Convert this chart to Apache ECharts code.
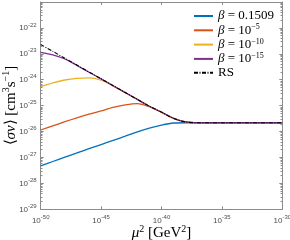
<!DOCTYPE html>
<html><head><meta charset="utf-8">
<script src="https://cdn.jsdelivr.net/npm/echarts@6/dist/echarts.min.js"></script>
<style>html,body{margin:0;padding:0;background:#fff}#c{width:290px;height:240px}</style>
</head><body><div id="c"></div>
<script>
// x: log10(mu^2 / GeV^2), y: log10(<sigma v> / cm^3 s^-1)
var xExp = [-50,-49,-48,-47,-46,-45,-44,-43,-42,-41,-40,-39,-38,-37,-36,-35,-34,-33,-32,-31,-30];
var beta1 = [-27.32,-27.155,-26.99,-26.825,-26.66,-26.50,-26.34,-26.18,-26.01,-25.87,-25.75,-25.67,-25.66,-25.66,-25.66,-25.66,-25.66,-25.66,-25.66,-25.66,-25.66];
var beta2 = [-25.94,-25.78,-25.62,-25.47,-25.33,-25.20,-25.07,-24.97,-24.92,-25.04,-25.26,-25.49,-25.63,-25.66,-25.66,-25.66,-25.66,-25.66,-25.66,-25.66,-25.66];
var beta3 = [-24.27,-24.12,-24.01,-23.95,-23.93,-24.02,-24.245,-24.50,-24.76,-25.025,-25.25,-25.49,-25.63,-25.66,-25.66,-25.66,-25.66,-25.66,-25.66,-25.66,-25.66];
var beta4 = [-22.94,-23.04,-23.20,-23.45,-23.71,-23.965,-24.23,-24.495,-24.76,-25.025,-25.25,-25.49,-25.63,-25.66,-25.66,-25.66,-25.66,-25.66,-25.66,-25.66,-25.66];
var rs    = [-22.64,-22.905,-23.17,-23.435,-23.70,-23.965,-24.23,-24.495,-24.76,-25.025,-25.25,-25.49,-25.63,-25.66,-25.66,-25.66,-25.66,-25.66,-25.66,-25.66,-25.66];
var seriesNames = ['b1','b2','b3','b4','rs'];
var legendLabels = {
  b1: '{g|β}{n| = 0.1509}',
  b2: '{g|β}{n| = 10}{s|−5}',
  b3: '{g|β}{n| = 10}{s|−10}',
  b4: '{g|β}{n| = 10}{s|−15}',
  rs: '{n|RS}'
};
var colors = ['#0072BD','#D95319','#EDB120','#7E2F8E','#000000'];

function pairs(ys){ return xExp.map(function(x,i){ return [x, ys[i]]; }); }
var yMinor = [];
for (var n = -29; n < -21; n++) { for (var k = 2; k <= 9; k++) yMinor.push(n + Math.log10(k)); }

var axisCol = '#8c8c8c';
var tickLabRich = {
  b: {fontFamily: 'Liberation Sans', fontSize: 8, color: '#4d4d4d', lineHeight: 12},
  s: {fontFamily: 'Liberation Sans', fontSize: 6, color: '#4d4d4d', lineHeight: 6, verticalAlign: 'top'}
};
function tickFmt(v){ return '{b|10}{s|' + v + '}'; }
var serifRich = {
  i: {fontFamily: 'Liberation Serif', fontStyle: 'italic', fontSize: 15, color: '#000', lineHeight: 18},
  n: {fontFamily: 'Liberation Serif', fontSize: 15, color: '#000', lineHeight: 18},
  s: {fontFamily: 'Liberation Serif', fontSize: 10, color: '#000', lineHeight: 10, verticalAlign: 'top'}
};

var chart = echarts.init(document.getElementById('c'), null, {renderer: 'canvas'});
var data = [beta1, beta2, beta3, beta4, rs];
var series = data.map(function(d, i){
  return {
    name: seriesNames[i], type: 'line', data: pairs(d), showSymbol: false, symbol: 'none',
    smooth: 0.3, xAxisIndex: 0, yAxisIndex: 0,
    lineStyle: {color: colors[i], width: i === 4 ? 1.1 : 1.3, type: i === 4 ? [4, 1.5, 1, 1.5] : 'solid'},
    itemStyle: {color: colors[i]}, z: 2 + i
  };
});
var baseAxis = {
  type: 'value', splitLine: {show: false},
  axisLine: {show: true, onZero: false, lineStyle: {color: axisCol, width: 1}},
  axisTick: {show: true, inside: true, length: 3, lineStyle: {color: axisCol}}
};
chart.setOption({
  animation: false,
  backgroundColor: '#fff',
  grid: {left: 40.7, right: 7.7, top: 2, bottom: 30.7, containLabel: false, outerBoundsMode: 'none'},
  legend: {
    orient: 'vertical', left: 193, top: 9.5, padding: 0, itemGap: 0.8,
    itemWidth: 19, itemHeight: 10, data: seriesNames,
    itemStyle: {opacity: 0},
    formatter: function(name){ return legendLabels[name]; },
    textStyle: {
      rich: {
        g: {fontFamily: 'Liberation Serif', fontStyle: 'italic', fontSize: 13, color: '#000', lineHeight: 14},
        n: {fontFamily: 'Liberation Serif', fontSize: 13, color: '#000', lineHeight: 14},
        s: {fontFamily: 'Liberation Serif', fontSize: 8, color: '#000', lineHeight: 8, verticalAlign: 'top'}
      }
    }
  },
  xAxis: [
    Object.assign({}, baseAxis, {
      position: 'bottom', min: -50, max: -30, interval: 5,
      axisLabel: {formatter: tickFmt, margin: 5, rich: tickLabRich},
      name: '{i|μ}{s|2}{n| [GeV}{s|2}{n|]}', nameLocation: 'middle', nameGap: 15, nameMoveOverlap: false,
      nameTextStyle: {rich: serifRich}
    }),
    Object.assign({}, baseAxis, {
      position: 'top', min: -50, max: -30, interval: 5, axisLabel: {show: false}
    })
  ],
  yAxis: [
    Object.assign({}, baseAxis, {
      position: 'left', min: -29, max: -21, interval: 1,
      axisLabel: {formatter: function(v){ return v > -22 ? '' : tickFmt(v); }, margin: 4, rich: tickLabRich},
      name: '{n|⟨}{i|σv}{n|⟩ [cm}{s|3}{n|s}{s|−1}{n|]}', nameLocation: 'middle', nameGap: 21, nameRotate: 90,
      nameMoveOverlap: false,
      nameTextStyle: {rich: serifRich}
    }),
    Object.assign({}, baseAxis, {
      position: 'right', min: -29, max: -21, interval: 1, axisLabel: {show: false}
    }),
    Object.assign({}, baseAxis, {
      position: 'left', min: -29, max: -21, axisLine: {show: false}, axisLabel: {show: false},
      axisTick: {show: true, inside: true, length: 1.8, customValues: yMinor, lineStyle: {color: axisCol}}
    }),
    Object.assign({}, baseAxis, {
      position: 'right', min: -29, max: -21, axisLine: {show: false}, axisLabel: {show: false},
      axisTick: {show: true, inside: true, length: 1.8, customValues: yMinor, lineStyle: {color: axisCol}}
    })
  ],
  series: series
});
</script></body></html>
